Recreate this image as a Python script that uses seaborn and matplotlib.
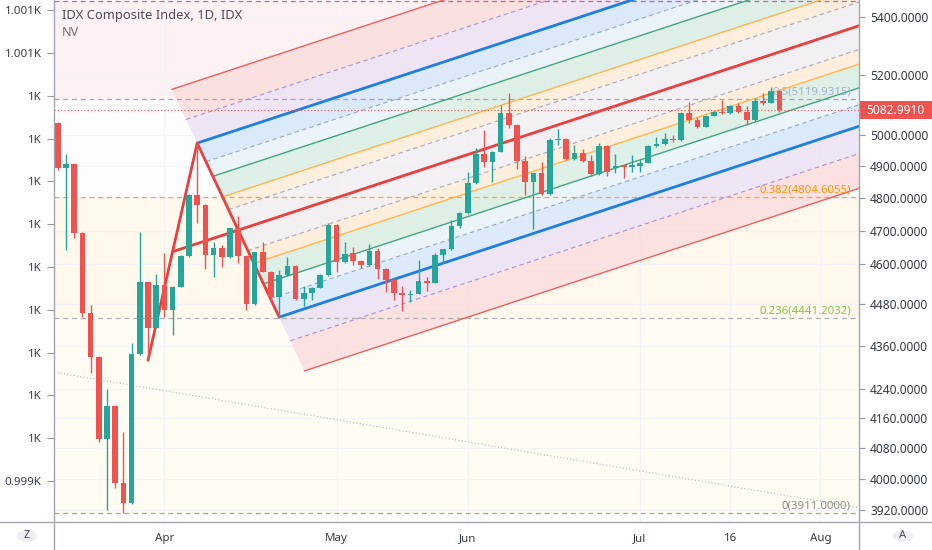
import numpy as np
import pandas as pd
import matplotlib
matplotlib.use('Agg')
import matplotlib.pyplot as plt
import seaborn as sns
from matplotlib.patches import Polygon, Rectangle, Circle
from matplotlib.lines import Line2D
from matplotlib.transforms import blended_transform_factory

sns.set_theme(style='white')
plt.rcParams['font.family'] = ['Noto Sans', 'DejaVu Sans']

# ── daily candles, 12 Mar 2020 .. 24 Jul 2020 (trading-day index) ──
opens = [5040, 4895, 4908, 4692, 4456, 4330, 4104, 4194, 3988, 3937,
         4338, 4545, 4413, 4538, 4464, 4532, 4623, 4810, 4779, 4626,
         4648, 4620, 4707, 4624, 4480, 4634, 4576, 4501, 4566, 4593,
         4496, 4512, 4529, 4566, 4717, 4604, 4631, 4609, 4596, 4639,
         4583, 4552, 4512, 4507, 4511, 4549, 4544, 4626, 4643, 4715,
         4753, 4849, 4940, 4915, 4947, 5072, 5034, 4919, 4852, 4878,
         4813, 4985, 4988, 4924, 4942, 4918, 4876, 4966, 4895, 4905,
         4899, 4903, 4912, 4966, 4972, 4987, 4984, 5074, 5050, 5028,
         5064, 5078, 5073, 5098, 5078, 5050, 5113, 5108, 5146]
highs = [5045, 4939, 4910, 4697, 4477, 4333, 4240, 4196, 4124, 4368,
         4697, 4547, 4568, 4631, 4534, 4625, 4812, 4975, 4781, 4666,
         4655, 4709, 4745, 4626, 4636, 4666, 4578, 4580, 4621, 4595,
         4534, 4531, 4568, 4724, 4719, 4666, 4651, 4611, 4658, 4648,
         4586, 4554, 4534, 4521, 4610, 4561, 4631, 4645, 4733, 4758,
         4883, 4958, 5018, 4950, 5100, 5141, 5036, 4934, 4880, 4915,
         4990, 5020, 4990, 4969, 4955, 4937, 4976, 4968, 4940, 4907,
         4937, 4923, 4968, 4996, 5009, 5000, 5078, 5111, 5061, 5066,
         5080, 5116, 5100, 5105, 5097, 5122, 5139, 5159, 5151]
lows = [4890, 4641, 4677, 4442, 4284, 4097, 3920, 3975, 3911, 3935,
        4336, 4320, 4411, 4443, 4392, 4530, 4620, 4722, 4584, 4561,
        4589, 4618, 4603, 4464, 4478, 4574, 4490, 4443, 4564, 4494,
        4475, 4494, 4527, 4564, 4576, 4602, 4596, 4586, 4594, 4554,
        4517, 4494, 4461, 4488, 4509, 4520, 4542, 4603, 4640, 4707,
        4750, 4846, 4897, 4851, 4945, 5023, 4891, 4810, 4706, 4810,
        4810, 4969, 4920, 4922, 4915, 4874, 4874, 4870, 4878, 4863,
        4883, 4883, 4910, 4963, 4970, 4980, 4982, 5041, 5023, 5026,
        5062, 5069, 5071, 5072, 5034, 5048, 5100, 5106, 5076]
closes = [4895, 4908, 4692, 4456, 4330, 4104, 4194, 3988, 3937, 4338,
          4545, 4413, 4538, 4464, 4532, 4623, 4810, 4779, 4626, 4648,
          4620, 4707, 4624, 4480, 4634, 4576, 4501, 4566, 4593, 4496,
          4512, 4529, 4566, 4717, 4604, 4629, 4609, 4596, 4639, 4583,
          4552, 4512, 4507, 4511, 4549, 4544, 4626, 4643, 4715, 4753,
          4849, 4940, 4915, 4947, 5072, 5034, 4919, 4852, 4878, 4813,
          4985, 4988, 4924, 4942, 4918, 4876, 4966, 4883, 4903, 4899,
          4905, 4912, 4966, 4972, 4987, 4984, 5074, 5050, 5028, 5064,
          5078, 5073, 5098, 5078, 5050, 5113, 5108, 5146, 5083]

last_price = 5082.9910

# x axis labels (trading-day index)
tick_idx = [13, 34, 50, 71, 82, 93]
tick_labels = ['Apr', 'May', 'Jun', 'Jul', '16', 'Aug']

# right price scale (5100 sits under the last-price tag)
price_ticks = [3920, 4000, 4080, 4160, 4240, 4360, 4480, 4600, 4700,
               4800, 4900, 5000, 5100, 5200, 5400]
hidden_ticks = [5100]

# left (NV) scale
left_ticks = list(range(12))
left_labels = ['0.999K'] + ['1K'] * 9 + ['1.001K'] * 2

# fib retracement (log) levels
fib_levels = [0, 0.236, 0.382, 0.5, 0.618]
fib_prices = [3911.0, 4441.2032, 4804.6055, 5119.9315, 5455.9]

# modified schiff pitchfork anchors
pf_idx = [11, 17, 27]
pf_price = [4320, 4975, 4443]
pf_levels = [0.236, 0.382, 0.618, 0.786, 1.0, 1.272, 1.618]

# dotted trend line anchors
trend_idx = [-0.46, 97.7]
trend_price = [4287, 3925]

# ── styles ──
UP, DOWN = '#26a69a', '#ef5350'
XMIN, XMAX = -0.46, 97.7
YMIN, YMAX = 3889, 5460
fib_line_cols = ['#a6a6a6', '#b0b0b0', '#ffa726', '#a8a8b4', '#e0569a']
fib_text_cols = ['#8c8c8c', '#8bc34a', '#ff9800', '#9fb4cc']
fib_fill_cols = ['#fffcf4', '#fff8ec', '#fdfdff', '#fdf1f4']
pf_line_cols = ['#a9a9b9', '#ffb74d', '#43a57c', '#95a9c6', '#1e7fe0', '#a893cf', '#ef5f5f']
pf_line_ls = ['dash', '-', '-', 'dash', '-', 'dash', '-']
pf_line_lw = [0.8, 1.0, 1.0, 0.8, 2.0, 0.8, 1.0]
pf_fill_cols = ['#f3f0f3', '#fdeedb', '#dcefe6', '#eaf4fb', '#d9e9fb', '#ede3f5', '#fbdfdf']
AXIS_TXT = '#363a45'

df = pd.DataFrame({'open': opens, 'high': highs, 'low': lows, 'close': closes})
df['idx'] = np.arange(len(df))
df['col'] = np.where(df['close'] >= df['open'], UP, DOWN)

fig = plt.figure(figsize=(9.32, 5.5), dpi=100)
ax = fig.add_axes([54 / 932, 28 / 550, 805 / 932, 522 / 550])
ax.set_yscale('log')

# fib background + lines
for i in range(len(fib_prices) - 1):
    ax.axhspan(fib_prices[i], fib_prices[i + 1], color=fib_fill_cols[i], lw=0, zorder=0)
for p, c in zip(fib_prices, fib_line_cols):
    ax.axhline(p, color=c, lw=0.9, ls=(0, (4, 3)), zorder=2)

# pitchfork geometry in (index, log price)
lnp = np.log(pf_price)
A = np.array([pf_idx[0], lnp[0]])
B = np.array([pf_idx[1], lnp[1]])
C = np.array([pf_idx[2], lnp[2]])
S = (A + B) / 2
M = (B + C) / 2
slope = (M[1] - S[1]) / (M[0] - S[0])
BM = B - M


def level_line(f):
    p0 = M + f * BM
    return p0, np.array([XMAX, p0[1] + slope * (XMAX - p0[0])])


for side in (1, -1):
    prev = 0.0
    for f, fc in zip(pf_levels, pf_fill_cols):
        a0, a1 = level_line(side * prev)
        b0, b1 = level_line(side * f)
        pts = np.array([a0, b0, b1, a1])
        ax.add_patch(Polygon(np.c_[pts[:, 0], np.exp(pts[:, 1])], closed=True,
                             facecolor=fc, edgecolor='none', alpha=0.92, zorder=1))
        prev = f

for side in (1, -1):
    for f, c, ls, lw in zip(pf_levels, pf_line_cols, pf_line_ls, pf_line_lw):
        p0, p1 = level_line(side * f)
        style = (0, (4, 3)) if ls == 'dash' else '-'
        ax.plot([p0[0], p1[0]], np.exp([p0[1], p1[1]]), color=c, lw=lw, ls=style, zorder=3)

# median + handle
med_end = np.array([XMAX, S[1] + slope * (XMAX - S[0])])
sns.lineplot(x=[S[0], med_end[0]], y=np.exp([S[1], med_end[1]]), ax=ax,
             color='#e8403f', lw=2.0, sort=False, estimator=None, zorder=3)
sns.lineplot(x=pf_idx, y=pf_price, ax=ax, color='#e8403f', lw=2.0,
             sort=False, estimator=None, zorder=3)

# dotted trend line
sns.lineplot(x=trend_idx, y=trend_price, ax=ax, color='#b8b8b8', lw=0.8,
             ls=(0, (1, 2)), sort=False, estimator=None, zorder=3)

# last price line
ax.axhline(last_price, color=DOWN, lw=0.8, ls=(0, (1, 2)), zorder=4)

# candles
ax.vlines(df['idx'], df['low'], df['high'], colors=df['col'], lw=1, zorder=5)
body_lo = df[['open', 'close']].min(axis=1)
body_h = (df['close'] - df['open']).abs().clip(lower=2)
ax.bar(df['idx'], body_h, bottom=body_lo, width=0.7, color=df['col'], lw=0, zorder=6)

# fib labels
blend = blended_transform_factory(ax.transAxes, ax.transData)
for lv, p, c in zip(fib_levels[:4], fib_prices[:4], fib_text_cols):
    ax.annotate(f'{lv}({p:.4f})', xy=(0.99, p), xycoords=blend, xytext=(0, 1),
                textcoords='offset points', ha='right', va='bottom',
                fontsize=8.2, color=c, zorder=4)

ax.set_xlim(XMIN, XMAX)
ax.set_ylim(YMIN, YMAX)
ax.set_xticks(tick_idx)
ax.set_xticklabels(tick_labels)
ax.tick_params(axis='x', length=4, width=0.8, color='#9598a1', pad=4,
               labelsize=8.3, labelcolor=AXIS_TXT)
ax.grid(True, color='#f2f3f6', lw=0.8)
ax.set_axisbelow(True)

# left NV scale (twin), then put price scale on the right
ax2 = ax.twinx()
ax2.set_ylim(-0.954, 11.234)
ax2.set_yticks(left_ticks)
ax2.set_yticklabels(left_labels)
ax2.grid(False)
ax2.yaxis.tick_left()
ax2.tick_params(axis='y', length=5, width=0.8, color='#9598a1', pad=4,
                labelsize=8.3, labelcolor=AXIS_TXT)

ax.yaxis.tick_right()
ax.set_yticks(price_ticks)
ax.set_yticklabels(['' if v in hidden_ticks else f'{v:.4f}' for v in price_ticks])
ax.minorticks_off()
ax.tick_params(axis='y', length=4, width=0.8, color='#9598a1', pad=4,
               labelsize=8.6, labelcolor=AXIS_TXT)
for a in (ax, ax2):
    for s in a.spines.values():
        s.set_visible(False)

# frame lines
fig.add_artist(Line2D([0, 1], [28 / 550, 28 / 550], color='#a3a6af', lw=1))
fig.add_artist(Line2D([54 / 932, 54 / 932], [0, 1], color='#a3a6af', lw=1))
fig.add_artist(Line2D([859 / 932, 859 / 932], [0, 1], color='#a3a6af', lw=1))

# last price tag
ypx = ax.transData.transform((0, last_price))[1]
fig.add_artist(Rectangle((860 / 932, (ypx - 9) / 550), 72 / 932, 18 / 550,
                         transform=fig.transFigure, facecolor=DOWN, edgecolor='none'))
fig.text(895 / 932, ypx / 550, f'{last_price:.4f}', ha='center', va='center',
         fontsize=8.6, color='white')

# header
fig.text(62 / 932, 1 - 16 / 550, 'IDX Composite Index, 1D, IDX', ha='left', va='center',
         fontsize=9.3, color='#4a4d57')
fig.text(62 / 932, 1 - 32.5 / 550, 'NV', ha='left', va='center', fontsize=9, color='#6b6e78')

# corner buttons
for cx, t in ((27, 'Z'), (903, 'A')):
    fig.add_artist(Circle((cx / 932, 1 - 536 / 550), 10 / 932, transform=fig.transFigure,
                          facecolor='#eef0f3', edgecolor='none'))
    fig.text(cx / 932, 1 - 536 / 550, t, ha='center', va='center', fontsize=8, color='#4a4d57')

fig.savefig('out.png', dpi=100, facecolor='white')
